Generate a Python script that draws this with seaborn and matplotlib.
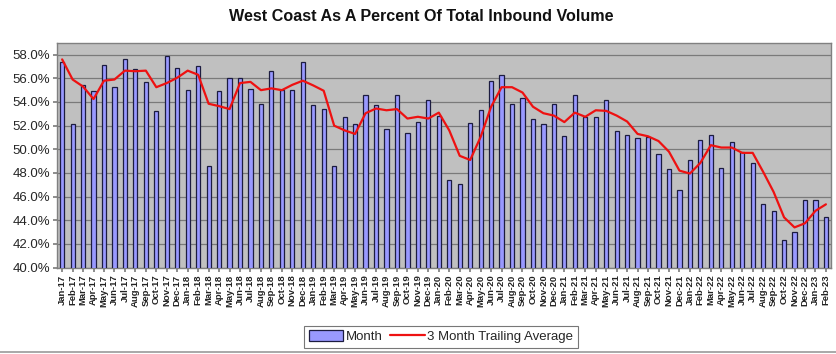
import matplotlib.pyplot as plt
import matplotlib.ticker as mticker
import seaborn as sns
import pandas as pd

# Months Jan-17 .. Feb-23
months = ["Jan-17", "Feb-17", "Mar-17", "Apr-17", "May-17", "Jun-17", "Jul-17", "Aug-17", "Sep-17", "Oct-17", "Nov-17", "Dec-17",
          "Jan-18", "Feb-18", "Mar-18", "Apr-18", "May-18", "Jun-18", "Jul-18", "Aug-18", "Sep-18", "Oct-18", "Nov-18", "Dec-18",
          "Jan-19", "Feb-19", "Mar-19", "Apr-19", "May-19", "Jun-19", "Jul-19", "Aug-19", "Sep-19", "Oct-19", "Nov-19", "Dec-19",
          "Jan-20", "Feb-20", "Mar-20", "Apr-20", "May-20", "Jun-20", "Jul-20", "Aug-20", "Sep-20", "Oct-20", "Nov-20", "Dec-20",
          "Jan-21", "Feb-21", "Mar-21", "Apr-21", "May-21", "Jun-21", "Jul-21", "Aug-21", "Sep-21", "Oct-21", "Nov-21", "Dec-21",
          "Jan-22", "Feb-22", "Mar-22", "Apr-22", "May-22", "Jun-22", "Jul-22", "Aug-22", "Sep-22", "Oct-22", "Nov-22", "Dec-22",
          "Jan-23", "Feb-23"]

# monthly share (%)
month_pct = [57.4, 52.1, 55.4, 54.9, 57.1, 55.25, 57.6, 56.75, 55.7, 53.2, 57.9, 56.9,
             55.05, 57.0, 48.6, 54.9, 56.0, 56.0, 55.1, 53.8, 56.65, 55.0, 55.05, 57.35,
             53.75, 53.4, 48.6, 52.75, 52.1, 54.6, 53.75, 51.75, 54.6, 51.35, 52.3, 54.2,
             52.85, 47.4, 47.05, 52.2, 53.3, 55.8, 56.3, 53.85, 54.3, 52.6, 52.1, 53.85,
             51.1, 54.6, 52.75, 52.75, 54.2, 51.55, 51.25, 50.95, 51.0, 49.6, 48.35, 46.6,
             49.1, 50.75, 51.2, 48.45, 50.6, 49.8, 48.85, 45.4, 44.8, 42.35, 43.0, 45.7,
             45.7, 44.25]

# 3 month trailing average (%)
trailing_avg = [57.6, 55.9, 55.3, 54.25, 55.8, 55.9, 56.65, 56.6, 56.65, 55.25, 55.6, 56.05,
                56.65, 56.3, 53.85, 53.65, 53.4, 55.6, 55.7, 55.0, 55.15, 55.0, 55.45, 55.8,
                55.4, 54.95, 52.0, 51.6, 51.3, 53.05, 53.45, 53.3, 53.4, 52.6, 52.75, 52.6,
                53.1, 51.6, 49.45, 49.1, 51.05, 53.6, 55.25, 55.25, 54.8, 53.6, 53.05, 52.85,
                52.3, 53.1, 52.75, 53.3, 53.25, 52.85, 52.35, 51.3, 51.1, 50.7, 49.8, 48.2,
                47.95, 48.85, 50.35, 50.15, 50.15, 49.7, 49.7, 48.1, 46.4, 44.25, 43.4, 43.75,
                44.8, 45.35]

df = pd.DataFrame({"month": months, "pct": month_pct, "avg": trailing_avg})

sns.set_theme(style="white")
plt.rcParams["font.family"] = ["Liberation Sans", "DejaVu Sans"]

fig = plt.figure(figsize=(8.37, 3.54), dpi=100)
ax = fig.add_axes([0.068, 0.244, 0.925, 0.635])
ax.set_facecolor("#c0c0c0")

sns.barplot(data=df, x="month", y="pct", ax=ax, color="#9999ff", saturation=1,
            width=0.4, edgecolor="#1c1c40", linewidth=0.9, label="Month", zorder=3)
ax.plot(range(len(df)), df["avg"], color="#ee1111", linewidth=1.6, zorder=4,
        label="3 Month Trailing Average")

ax.set_ylim(40, 59)
ax.set_xlim(-0.5, len(df) - 0.5)
ax.set_yticks(range(40, 59, 2))
ax.yaxis.set_major_formatter(mticker.FuncFormatter(lambda v, p: f"{v:.1f}%"))
ax.yaxis.grid(True, color="#7a7a7a", linewidth=0.9, zorder=0)
ax.set_axisbelow(True)

ax.tick_params(axis="y", labelsize=9.5, length=3, left=True, color="#808080", pad=2)
ax.tick_params(axis="x", labelsize=6.8, length=3, bottom=True, color="#808080", pad=2)
plt.setp(ax.get_xticklabels(), rotation=90, fontweight="bold", color="#222222")
ax.set_xlabel("")
ax.set_ylabel("")

for s in ax.spines.values():
    s.set_color("#808080")
    s.set_linewidth(1.0)

fig.suptitle("West Coast As A Percent Of Total Inbound Volume", x=0.503, y=0.975,
             fontsize=11.6, fontweight="bold", color="#111111")

handles, labels = ax.get_legend_handles_labels()
order = [labels.index("Month"), labels.index("3 Month Trailing Average")]
leg = ax.legend([handles[i] for i in order], [labels[i] for i in order],
                loc="center", bbox_to_anchor=(0.527, 0.049), bbox_transform=fig.transFigure,
                ncol=2, frameon=True, fancybox=False, fontsize=9.5, handlelength=2.6,
                handleheight=0.9, columnspacing=0.6, handletextpad=0.2,
                borderpad=0.35, edgecolor="#555555")
leg.get_frame().set_linewidth(0.8)

# thin frame line along the bottom edge of the picture
fig.add_artist(plt.Line2D([0, 1], [0.006, 0.006], transform=fig.transFigure,
                          color="#999999", linewidth=1.2))

fig.savefig("out.png", dpi=100)
